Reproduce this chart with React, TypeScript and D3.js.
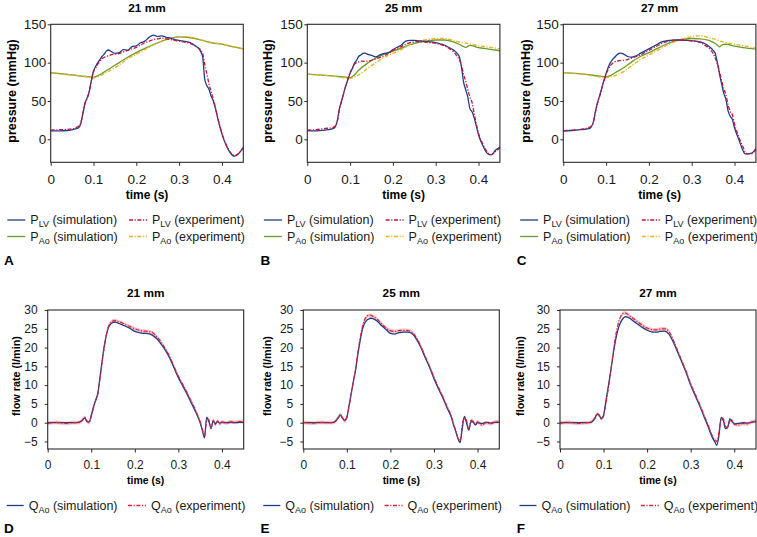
import React, { useEffect, useRef } from "react";
import * as d3 from "d3";

const FONT = '"Liberation Sans", Arial, Helvetica, sans-serif';

// sample times (s)
const tLV = [
  0, 0.02, 0.04, 0.06,
  0.065, 0.07, 0.075, 0.08, 0.085, 0.09, 0.095, 0.1,
  0.105, 0.11, 0.115, 0.12, 0.125, 0.13, 0.135, 0.14,
  0.15, 0.16, 0.17, 0.18, 0.19, 0.2, 0.21, 0.22, 0.23, 0.24, 0.25, 0.26, 0.27, 0.28, 0.29, 0.3, 0.31, 0.32, 0.33, 0.34,
  0.345, 0.35, 0.355, 0.36, 0.365, 0.37, 0.375, 0.38, 0.385, 0.39, 0.395, 0.4,
  0.41, 0.42, 0.425, 0.43, 0.44, 0.45,
];
const tAo = [0, 0.05, 0.09, 0.1, 0.11, 0.12, 0.14, 0.16, 0.18, 0.2, 0.22, 0.24, 0.26, 0.28, 0.3, 0.32, 0.34, 0.355, 0.36, 0.365, 0.37, 0.38, 0.4, 0.42, 0.45];
const tQ = [
  0, 0.02, 0.04, 0.06,
  0.07, 0.075, 0.08, 0.085, 0.09, 0.095, 0.1,
  0.105, 0.11, 0.115, 0.12, 0.125, 0.13, 0.135, 0.14, 0.145, 0.15, 0.155, 0.16,
  0.17, 0.18, 0.19, 0.2, 0.21, 0.22, 0.23, 0.24, 0.25, 0.26, 0.27, 0.28, 0.29, 0.3, 0.31, 0.32, 0.33, 0.34,
  0.345, 0.35, 0.355, 0.36, 0.365, 0.37, 0.375, 0.38, 0.385, 0.39, 0.395, 0.4,
  0.41, 0.42, 0.43, 0.44, 0.45,
];

// LV pressure (mmHg)
const lvSim21 = [
  11, 11, 11.5, 14,
  15, 20, 33, 47, 54, 62, 77, 89,
  95, 100, 104, 108, 111, 115, 116.5, 115,
  112, 113, 117, 116, 121, 122, 126, 128, 133, 136, 134, 135, 133, 132, 130, 129, 128, 127, 125, 121,
  119, 115, 108, 78, 70, 65, 56, 50, 40, 28, 17, 7,
  -8, -18, -21, -22, -18, -11,
];
const lvExp21 = [
  12, 12.5, 13, 15.5,
  17, 21, 33, 46, 53, 62, 76, 88,
  93, 98, 102, 105, 107, 108, 109, 110,
  111, 112, 114, 116, 118, 120, 123, 126, 128, 130, 131, 132, 131, 130, 129, 128, 127, 126, 124, 121,
  119, 117, 112, 98, 85, 72, 62, 52, 41, 29, 18, 8,
  -7, -17, -20, -21, -18, -11,
];
const lvSim25 = [
  11, 11, 12, 14,
  16, 24, 40, 50, 60, 70, 78, 86,
  92, 99, 103, 108, 110, 112, 112.5, 111,
  109.5, 107.5, 110, 112, 113, 117, 120, 123, 128, 129, 129, 128.5, 128, 127.5, 127, 126, 124.5, 123, 120, 117,
  115, 112, 108, 95, 75, 65, 55, 40, 36, 28, 17, 6,
  -8, -18, -20, -20, -14, -10,
];
const lvExp25 = [
  12, 12.5, 14, 15.5,
  17, 23, 38, 49, 60, 70, 79, 87,
  93, 98, 100, 101, 102, 102, 101.5, 102,
  103, 105, 107, 109, 112, 116, 119, 121, 124, 126, 127, 127.5, 127, 126.5, 126, 125.5, 124, 122, 119, 115,
  112, 108, 104, 97, 85, 76, 65, 55, 48, 33, 20, 8,
  -6, -16, -19, -20, -16, -11,
];
const lvSim27 = [
  11, 11.5, 12.5, 14,
  16, 22, 36, 48, 57, 67, 77, 86,
  94, 100, 104, 107, 110, 112, 112.5, 111.5,
  108, 107, 109, 112, 115, 118, 121, 124, 127, 128.5, 129, 129.5, 129.5, 129, 129, 128.5, 128, 127, 125, 121.5,
  119, 116, 112, 100, 85, 72, 60, 52, 37, 30, 26, 15,
  0, -15, -19, -19, -18, -12,
];
const lvExp27 = [
  11, 12, 13, 15.5,
  17, 22, 35, 47, 56, 66, 76, 85,
  91, 96, 99, 101, 102, 102.5, 103, 103,
  104, 106, 108, 110, 113, 116, 119, 122, 125, 127, 128.5, 129, 129.5, 129.5, 129, 128.5, 128, 126, 123, 119,
  116, 112, 106, 98, 88, 76, 66, 58, 45, 36, 32, 20,
  3, -10, -16, -19, -19, -12,
];

// aortic pressure (mmHg)
const aoSim21 = [87, 84, 81.5, 81, 83, 86, 93, 100, 107, 113, 118.5, 123.5, 128, 131.5, 133.5, 133, 131, 129, 128, 127.5, 126.5, 125.5, 124, 121.5, 118];
const aoExp21 = [86.5, 83.5, 81, 80, 81.5, 84, 90, 97, 105, 111, 117, 123, 128, 132, 134, 134, 131.5, 129, 128, 127.5, 127, 126, 124, 121.5, 118];
const aoSim25 = [85, 83, 81, 80.5, 84, 90, 99, 106, 111, 115, 119, 123.5, 126.5, 128.5, 129.5, 129.5, 127.5, 124, 122.5, 121, 120, 122.5, 119.5, 118, 115.5];
const aoExp25 = [85, 83, 80, 79.5, 81, 84, 92, 100, 107, 112, 117, 124, 128, 130, 131.5, 131.5, 129, 127, 126.5, 126, 125.5, 124.5, 122, 120.5, 118];
const aoSim27 = [87, 85, 82, 81.5, 83, 86.5, 93, 101, 108, 113, 118.5, 124, 128, 130.5, 131.5, 131, 129, 125, 123, 120.5, 123, 124, 121.5, 119.5, 117.5];
const aoExp27 = [87, 84.5, 81, 80.5, 81.5, 83, 88, 96, 104, 110, 116, 122, 127, 131, 134, 135, 132.5, 130.5, 129.5, 128.5, 127.5, 126, 124, 122, 119];

// aortic flow rate (l/min)
const qSim21 = [
  0, 0, 0, 0,
  0.1, 0.3, 0.8, 1.3, 0.3, 0.2, 2,
  4.2, 6, 7.8, 12, 16.5, 20.5, 23.5, 25.5, 26.3, 26.7, 26.8, 26.6,
  26.1, 25.6, 25, 24.3, 24, 23.8, 23.7, 23.3, 22.4, 21, 19.3, 17.2, 14.6, 12, 9.8, 7.6, 5.2, 2.8,
  1.5, 0, -2, -4, 1.5, 0.3, -1.5, 0.5, -0.3, 0.3, -0.1, 0.1,
  0, 0.1, 0, 0.1, 0.1,
];
const qExp21 = [
  -0.2, 0.1, -0.2, 0,
  0, 0.2, 0.7, 1.4, 0.5, 0, 1.6,
  3.8, 5.8, 7.6, 11.5, 16, 20.2, 23.6, 25.8, 26.7, 27.1, 27.2, 27,
  26.6, 26, 25.5, 25, 24.6, 24.4, 24.3, 24, 23, 21.5, 19.7, 17.6, 15, 12.4, 10.2, 8, 5.6, 3.2,
  1.8, 0.3, -1.7, -3.6, 0.5, 0.8, -1.5, 0.6, -0.5, 0.5, -0.3, 0.2,
  -0.1, 0.2, 0.1, 0.3, 0.3,
];
const qSim25 = [
  0, 0, 0, 0,
  0.1, 0.5, 1.2, 2, 1.2, 0.6, 1.5,
  4.5, 7.8, 11, 14, 18, 21.5, 24.5, 26.3, 27.2, 27.6, 27.8, 27.7,
  27, 25.8, 24.8, 23.8, 23.6, 24, 24.1, 24.1, 23.7, 22.2, 20, 17.3, 14.7, 11.7, 9.1, 6.7, 4, 1.4,
  -0.6, -2.3, -4.2, -5.3, -1.5, 1.7, -0.2, -2, 0.3, 0.2, -0.6, 0,
  -0.2, 0.1, -0.1, 0.1, 0.1,
];
const qExp25 = [
  0.1, -0.1, 0.1, 0,
  0.1, 0.6, 1.4, 2.2, 1.3, 0.5, 1.4,
  4.3, 7.6, 11, 14.3, 18.5, 22.2, 25.2, 27.2, 28.2, 28.6, 28.6, 28.3,
  27.5, 26.3, 25.2, 24.5, 24.3, 24.5, 24.6, 24.5, 24, 22.6, 20.3, 17.6, 15, 12.1, 9.5, 7, 4.3, 1.7,
  -0.3, -2.1, -4, -4.8, -0.5, 1.3, 0.5, -1.5, 0.6, 0.3, -0.4, 0.2,
  -0.6, 0, -0.3, 0.2, 0.3,
];
const qSim27 = [
  0, 0, 0, 0,
  0.1, 0.4, 1.1, 2.2, 1.9, 1.1, 2,
  5.5, 9, 12.6, 16.5, 20.3, 23.3, 25.5, 26.9, 27.8, 28.2, 28.1, 27.8,
  26.9, 26.1, 25.3, 24.6, 24.2, 24.1, 24.3, 24.4, 23.6, 21.5, 18.8, 16, 13.2, 10, 7.3, 4.7, 1.8, -1,
  -2.6, -4, -5, -6, -3.4, 1.4, 0.6, -1.6, -1.2, 1, 0.3, -0.3,
  -0.2, 0, -0.1, 0.1, 0.3,
];
const qExp27 = [
  -0.1, 0.1, -0.2, 0,
  0.1, 0.5, 1.3, 2.4, 2, 1, 1.8,
  4.8, 8.4, 12.5, 16.8, 21.2, 24.5, 27, 28.4, 29.1, 29.2, 28.9, 28.4,
  27.6, 26.7, 25.9, 25.2, 24.8, 24.7, 24.9, 25, 24.3, 22, 19.2, 16.4, 13.6, 10.4, 7.7, 5.1, 2.2, -0.6,
  -2.2, -3.6, -4.6, -5, -2.5, 0.8, 1, -1, -1.4, 0.5, 0.6, -0.4,
  -0.6, -0.2, -0.3, 0.2, 0.4,
];
// half-width of the experimental spread band (l/min)
const qExpSpread = 0.5;

const valveSizes = ["21 mm", "25 mm", "27 mm"];
const pressureLetters = ["A", "B", "C"];
const flowLetters = ["D", "E", "F"];
const timeTicks = [0, 0.1, 0.2, 0.3, 0.4];
const pressureTicks = [0, 50, 100, 150];
const flowTicks = [-5, 0, 5, 10, 15, 20, 25, 30];

const C = {
  lvSim: "#1f3c8a",
  lvExp: "#c3143a",
  aoSim: "#6b9a2c",
  aoExp: "#e8b21e",
  qSim: "#1f3c8a",
  qExp: "#d3243c",
  band: "#f3b9bb",
  axis: "#2a2a2a",
};
const DASH = "4,1.6,1.2,1.6";

const App = () => {
  const svgRef = useRef<SVGSVGElement>(null);

  useEffect(() => {
    const svg = d3.select(svgRef.current);
    svg.selectAll("*").remove();
    svg.attr("font-family", FONT);

    const colShift = [0, 256.6, 512.8];

    const lineOf = (ts: number[], x: any, y: any) =>
      d3
        .line<number>()
        .x((_, k) => x(ts[k]))
        .y((d) => y(d))
        .curve(d3.curveMonotoneX);

    const frame = (g: any, x: any, y: any, yTicks: number[], o: any) => {
      const [x0, x1] = x.range();
      const [yb, yt] = y.range();
      const xa = g
        .append("g")
        .attr("transform", `translate(0,${yb})`)
        .call(
          d3
            .axisBottom(x)
            .tickValues(timeTicks)
            .tickFormat(d3.format(""))
            .tickSize(3.5)
            .tickSizeOuter(0)
            .tickPadding(o.xPad)
        );
      const ya = g
        .append("g")
        .attr("transform", `translate(${x0},0)`)
        .call(
          d3
            .axisLeft(y)
            .tickValues(yTicks)
            .tickFormat(d3.format(""))
            .tickSize(3)
            .tickSizeOuter(0)
            .tickPadding(o.yPad)
        );
      [xa, ya].forEach((a) => {
        a.select(".domain").remove();
        a.attr("font-family", FONT).attr("font-size", o.tickFont);
        a.selectAll("line").attr("stroke", C.axis).attr("stroke-width", 1);
        a.selectAll("text").attr("fill", "#1a1a1a");
      });
      g.append("rect")
        .attr("x", x0)
        .attr("y", yt)
        .attr("width", x1 - x0)
        .attr("height", yb - yt)
        .attr("fill", "none")
        .attr("stroke", C.axis)
        .attr("stroke-width", 1.1);
    };

    const legendItem = (
      g: any,
      lx: number,
      ly: number,
      len: number,
      color: string,
      dashed: boolean,
      main: string,
      sub: string,
      rest: string
    ) => {
      g.append("line")
        .attr("x1", lx)
        .attr("x2", lx + len)
        .attr("y1", ly)
        .attr("y2", ly)
        .attr("stroke", color)
        .attr("stroke-width", 1.3)
        .attr("stroke-dasharray", dashed ? DASH : null);
      const t = g
        .append("text")
        .attr("x", lx + len + 5)
        .attr("y", ly + 4)
        .attr("font-size", 12.5)
        .attr("fill", "#1a1a1a");
      t.append("tspan").text(main);
      t.append("tspan").attr("font-size", 9).attr("dy", 3).text(sub);
      t.append("tspan").attr("dy", -3).text(rest);
    };

    // ---- pressure row ----
    const pressure = [
      { lvSim: lvSim21, lvExp: lvExp21, aoSim: aoSim21, aoExp: aoExp21 },
      { lvSim: lvSim25, lvExp: lvExp25, aoSim: aoSim25, aoExp: aoExp25 },
      { lvSim: lvSim27, lvExp: lvExp27, aoSim: aoSim27, aoExp: aoExp27 },
    ];
    const topLefts = [50.7, 307.3, 563.3];
    const topYLabelX = [12, 268, 525.3];

    pressure.forEach((p, i) => {
      const left = topLefts[i];
      const x = d3.scaleLinear().domain([0, 0.45]).range([left, left + 192.6]);
      const y = d3.scaleLinear().domain([-30, 150]).range([162.3, 24.3]);
      const g = svg.append("g");

      const series = [
        { ts: tAo, v: p.aoSim, c: C.aoSim, d: false },
        { ts: tAo, v: p.aoExp, c: C.aoExp, d: true },
        { ts: tLV, v: p.lvSim, c: C.lvSim, d: false },
        { ts: tLV, v: p.lvExp, c: C.lvExp, d: true },
      ];
      series.forEach((s) => {
        g.append("path")
          .attr("d", lineOf(s.ts, x, y)(s.v))
          .attr("fill", "none")
          .attr("stroke", s.c)
          .attr("stroke-width", 1.3)
          .attr("stroke-dasharray", s.d ? DASH : null);
      });

      frame(g, x, y, pressureTicks, { xPad: 8.5, yPad: 1.5, tickFont: 13.5 });

      const cx = left + 192.6 / 2;
      g.append("text")
        .attr("x", cx)
        .attr("y", 11.5)
        .attr("text-anchor", "middle")
        .attr("font-weight", "bold")
        .attr("font-size", 11.8)
        .text(valveSizes[i]);
      g.append("text")
        .attr("x", cx)
        .attr("y", 198.5)
        .attr("text-anchor", "middle")
        .attr("font-weight", "bold")
        .attr("font-size", 12)
        .text("time (s)");
      g.append("text")
        .attr("transform", `translate(${topYLabelX[i]},91) rotate(-90)`)
        .attr("dy", "0.35em")
        .attr("text-anchor", "middle")
        .attr("font-weight", "bold")
        .attr("font-size", 12.5)
        .text("pressure (mmHg)");

      const s = colShift[i];
      legendItem(g, 7.3 + s, 220, 18, C.lvSim, false, "P", "LV", " (simulation)");
      legendItem(g, 129 + s, 220, 18, C.lvExp, true, "P", "LV", " (experiment)");
      legendItem(g, 7.3 + s, 236.5, 18, C.aoSim, false, "P", "Ao", " (simulation)");
      legendItem(g, 129 + s, 236.5, 18, C.aoExp, true, "P", "Ao", " (experiment)");

      g.append("text")
        .attr("x", 4 + s)
        .attr("y", 265)
        .attr("font-weight", "bold")
        .attr("font-size", 13.5)
        .text(pressureLetters[i]);
    });

    // ---- flow row ----
    const flow = [
      { sim: qSim21, exp: qExp21 },
      { sim: qSim25, exp: qExp25 },
      { sim: qSim27, exp: qExp27 },
    ];
    const botLefts = [47.7, 303.3, 560];
    const botYLabelX = [16, 267, 520];

    flow.forEach((f, i) => {
      const left = botLefts[i];
      const x = d3.scaleLinear().domain([0, 0.45]).range([left, left + 196]);
      const y = d3.scaleLinear().domain([-7, 30]).range([449, 310]);
      const g = svg.append("g");

      const band = d3
        .area<number>()
        .x((_, k) => x(tQ[k]))
        .y0((d) => y(d - qExpSpread))
        .y1((d) => y(d + qExpSpread))
        .curve(d3.curveMonotoneX);
      g.append("path").attr("d", band(f.exp)).attr("fill", C.band).attr("opacity", 0.85);

      g.append("path")
        .attr("d", lineOf(tQ, x, y)(f.sim))
        .attr("fill", "none")
        .attr("stroke", C.qSim)
        .attr("stroke-width", 1.3);
      g.append("path")
        .attr("d", lineOf(tQ, x, y)(f.exp))
        .attr("fill", "none")
        .attr("stroke", C.qExp)
        .attr("stroke-width", 1.2)
        .attr("stroke-dasharray", DASH);

      frame(g, x, y, flowTicks, { xPad: 7.5, yPad: 7, tickFont: 12 });

      const cx = left + 98;
      g.append("text")
        .attr("x", cx)
        .attr("y", 296.5)
        .attr("text-anchor", "middle")
        .attr("font-weight", "bold")
        .attr("font-size", 11.8)
        .text(valveSizes[i]);
      g.append("text")
        .attr("x", cx)
        .attr("y", 483.5)
        .attr("text-anchor", "middle")
        .attr("font-weight", "bold")
        .attr("font-size", 10.5)
        .text("time (s)");
      g.append("text")
        .attr("transform", `translate(${botYLabelX[i]},376) rotate(-90)`)
        .attr("dy", "0.35em")
        .attr("text-anchor", "middle")
        .attr("font-weight", "bold")
        .attr("font-size", 10.8)
        .text("flow rate (l/min)");

      const s = colShift[i];
      legendItem(g, 6.7 + s, 505.5, 17, C.qSim, false, "Q", "Ao", " (simulation)");
      legendItem(g, 128 + s, 505.5, 18, C.qExp, true, "Q", "Ao", " (experiment)");

      g.append("text")
        .attr("x", 4 + s)
        .attr("y", 533)
        .attr("font-weight", "bold")
        .attr("font-size", 13.5)
        .text(flowLetters[i]);
    });
  }, []);

  return (
    <svg
      ref={svgRef}
      width={757}
      height={537}
      style={{ position: "absolute", left: 0, top: 0, background: "#fff" }}
    ></svg>
  );
};

export default App;
